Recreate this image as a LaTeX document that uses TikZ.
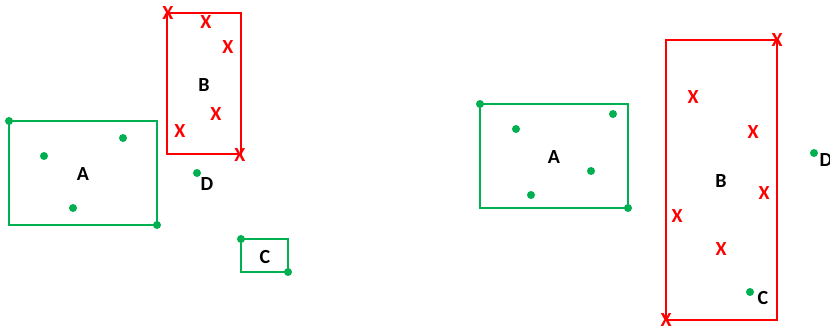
\documentclass[tikz,border=0pt]{standalone}
\usepackage{fontspec}
\setmainfont{Carlito}
\definecolor{grn}{RGB}{0,176,80}
\definecolor{rd}{RGB}{255,0,0}
\tikzset{
  grnbox/.style={draw=grn, line width=1.6pt},
  rdbox/.style={draw=rd, line width=1.6pt},
  pt/.style={circle, fill=grn, inner sep=0pt, minimum size=6pt},
  cross/.style={text=rd, font=\bfseries\fontsize{15}{15}\selectfont, inner sep=0pt},
  lbl/.style={font=\bfseries\fontsize{15}{15}\selectfont, inner sep=0pt}
}
\begin{document}
\begin{tikzpicture}[x=0.75pt, y=-0.75pt]
\useasboundingbox (0,0) rectangle (830,332);
\clip (0,0) rectangle (830,332);

% ---- left arrangement ----
\draw[grnbox] (9,121) rectangle (157,225);
\node[lbl] (la) at (83,174) {A};
\node[pt] (la1) at (9,121) {};
\node[pt] (la2) at (157,225) {};
\node[pt] (la3) at (123,138) {};
\node[pt] (la4) at (44,156) {};
\node[pt] (la5) at (73,208) {};

\draw[rdbox] (167,13) rectangle (241,154);
\node[lbl] (lb) at (204,85) {B};
\node[cross] (lb1) at (168,13) {X};
\node[cross] (lb2) at (206,22) {X};
\node[cross] (lb3) at (228,47) {X};
\node[cross] (lb4) at (216,114) {X};
\node[cross] (lb5) at (180,131) {X};
\node[cross] (lb6) at (240,155) {X};

\node[pt] (ld) at (197,173) {};
\node[lbl] (ldl) at (207,184) {D};

\draw[grnbox] (241,239) rectangle (288,272);
\node[lbl] (lc) at (265,257) {C};
\node[pt] (lc1) at (241,239) {};
\node[pt] (lc2) at (288,272) {};

% ---- right arrangement ----
\draw[grnbox] (480,104) rectangle (628,208);
\node[lbl] (ra) at (554,157) {A};
\node[pt] (ra1) at (480,104) {};
\node[pt] (ra2) at (628,208) {};
\node[pt] (ra3) at (613,114) {};
\node[pt] (ra4) at (516,129) {};
\node[pt] (ra5) at (591,171) {};
\node[pt] (ra6) at (531,195) {};

\draw[rdbox] (666,40) rectangle (777,320);
\node[lbl] (rb) at (721,181) {B};
\node[cross] (rb1) at (777,40) {X};
\node[cross] (rb2) at (693,97) {X};
\node[cross] (rb3) at (753,132) {X};
\node[cross] (rb4) at (764,193) {X};
\node[cross] (rb5) at (677,216) {X};
\node[cross] (rb6) at (721,249) {X};
\node[cross] (rb7) at (666,320) {X};

\node[pt] (rc) at (750,292) {};
\node[lbl] (rcl) at (763,298) {C};

\node[pt] (rd) at (814,153) {};
\node[lbl] (rdl) at (826,160) {D};
\end{tikzpicture}
\end{document}
